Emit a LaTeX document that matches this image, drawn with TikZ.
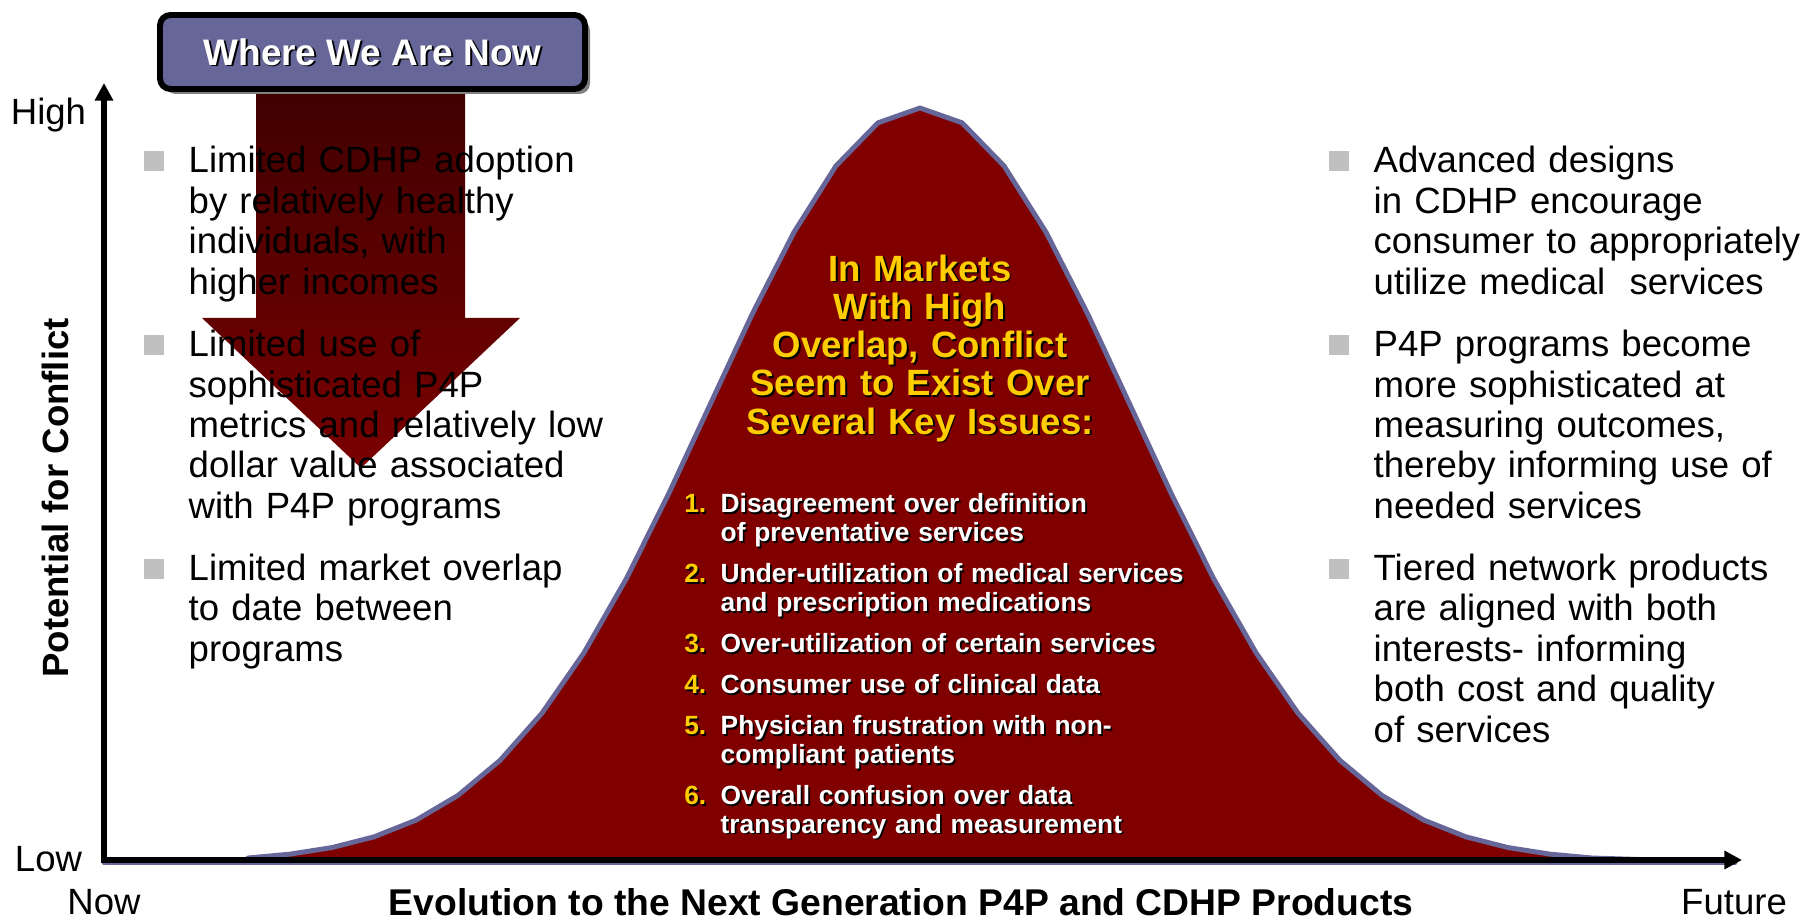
\documentclass[tikz,border=0pt]{standalone}
\usepackage{fontspec}
\setmainfont{Liberation Sans}
\usetikzlibrary{arrows.meta,shadows}

\definecolor{bellred}{RGB}{128,0,0}
\definecolor{bellline}{RGB}{102,102,153}
\definecolor{nowfill}{RGB}{102,102,153}
\definecolor{nowshadow}{RGB}{128,128,128}
\definecolor{keyyellow}{RGB}{255,204,0}
\definecolor{bulletgray}{RGB}{192,192,192}
\definecolor{arrowtop}{RGB}{64,0,0}
\definecolor{arrowbottom}{RGB}{122,0,0}

% text with a small dark shadow under it
\def\shadowtext[#1](#2)#3#4{%
  \node[#1, text=black, xshift=0.5pt, yshift=-0.5pt] at (#2) {#4};
  \node[#1] (#3) at (#2) {#4};}

\tikzset{
  plain/.style={inner sep=0pt, font=\fontsize{10.4}{11.5}\selectfont},
  boldplain/.style={plain, font=\fontsize{10.4}{11.5}\selectfont\bfseries},
  bullettext/.style={plain, anchor=base west, text width=4.6cm, align=left},
  bulletsq/.style={fill=bulletgray, minimum size=0.2cm, inner sep=0pt},
  heading/.style={anchor=base, inner sep=0pt, text width=4.2cm, align=center, text=keyyellow, font=\fontsize{10.4}{10.9}\selectfont\bfseries},
  itemnum/.style={anchor=base east, inner sep=0pt, text=keyyellow, font=\fontsize{7.5}{8.2}\selectfont\bfseries},
  itemtext/.style={anchor=base west, inner sep=0pt, text width=4.9cm, align=left, text=white, font=\fontsize{7.5}{8.2}\selectfont\bfseries},
  nowbox/.style={draw=black, line width=1.7pt, fill=nowfill, rounded corners=3pt, minimum width=4.25cm, minimum height=0.74cm, drop shadow={shadow xshift=0.05cm, shadow yshift=-0.05cm, fill=nowshadow, opacity=1}},
  nowtext/.style={inner sep=0pt, text=white, font=\fontsize{10.5}{12}\selectfont\bfseries},
  bell/.style={fill=bellred, draw=bellline, line width=1.4pt, line join=round},
  axis/.style={line width=1.7pt, >={Triangle[width=5pt,length=5pt]}, <->},
}

\begin{document}
\begin{tikzpicture}
	%%%%% START %%%%%
	\useasboundingbox (0,0) rectangle (18.09,9.2);

	% bell curve
	\filldraw[bell] (1.04,0.575) -- (2.48,0.575)
		-- plot[domain=2.48:15.92, samples=33] (\x,{0.575+7.545*exp(((\x-9.2)^2)/(-8.82))})
		-- (17.35,0.575) -- cycle;

	% down arrow under the box
	\shade[top color=arrowtop, bottom color=arrowbottom]
		(2.56,8.3) -- (4.65,8.3) -- (4.65,6.02) -- (5.20,6.02) -- (3.61,4.52) -- (2.02,6.02) -- (2.56,6.02) -- cycle;

	\node[nowbox] (nowbox) at (3.725,8.68) {};
	\shadowtext[nowtext](nowbox.center){nowlabel}{Where We Are Now}

	% axes
	\coordinate (top) at (1.04,8.37);
	\coordinate (origin) at (1.04,0.60);
	\coordinate (far) at (17.42,0.60);
	\draw[axis] (top) -- (origin) -- (far);

	\node[plain] (high) at (0.485,8.045) {High};
	\node[plain] (low) at (0.485,0.605) {Low};
	\node[plain] (now) at (1.04,0.18) {Now};
	\node[plain] (future) at (17.34,0.18) {Future};
	\node[boldplain, font=\fontsize{10.6}{11.5}\selectfont\bfseries] (evolution) at (9.01,0.18) {Evolution to the Next Generation P4P and CDHP Products};
	\node[boldplain, rotate=90] (potential) at (0.55,4.22) {Potential for Conflict};

	% bullets
	\foreach \y in {7.47,5.634,3.395} {
		\node[bulletsq] at (1.535,\y+0.12) {};
		\node[bulletsq] at (13.385,\y+0.12) {};
	}

	\node[bullettext] (left1) at (1.88,7.47) {Limited CDHP adoption\\ by relatively healthy\\ individuals, with\\ higher incomes};
	\node[bullettext] (left2) at (1.88,5.634) {Limited use of\\ sophisticated P4P\\ metrics and relatively low\\ dollar value associated\\ with P4P programs};
	\node[bullettext] (left3) at (1.88,3.395) {Limited market overlap\\ to date between\\ programs};

	\node[bullettext] (right1) at (13.73,7.47) {Advanced designs\\ in CDHP encourage\\ consumer to appropriately\\ utilize medical\ \ services};
	\node[bullettext] (right2) at (13.73,5.634) {P4P programs become\\ more sophisticated at\\ measuring outcomes,\\ thereby informing use of\\ needed services};
	\node[bullettext] (right3) at (13.73,3.395) {Tiered network products\\ are aligned with both\\ interests- informing\\ both cost and quality\\ of services};

	% text inside the bell
	\shadowtext[heading](9.2,6.39){heading}{In Markets\\ With High\\ Overlap, Conflict\\ Seem to Exist Over\\ Several Key Issues:}

	\foreach \num/\y/\txt in {
		1/4.07/{Disagreement over definition\\ of preventative services},
		2/3.372/{Under-utilization of medical services\\ and prescription medications},
		3/2.674/{Over-utilization of certain services},
		4/2.264/{Consumer use of clinical data},
		5/1.854/{Physician frustration with non-\\ compliant patients},
		6/1.156/{Overall confusion over data\\ transparency and measurement}} {
		\shadowtext[itemnum](7.07,\y){num\num}{\num.}
		\shadowtext[itemtext](7.20,\y){item\num}{\txt}
	}
	%%%%% END %%%%%
\end{tikzpicture}
\end{document}
